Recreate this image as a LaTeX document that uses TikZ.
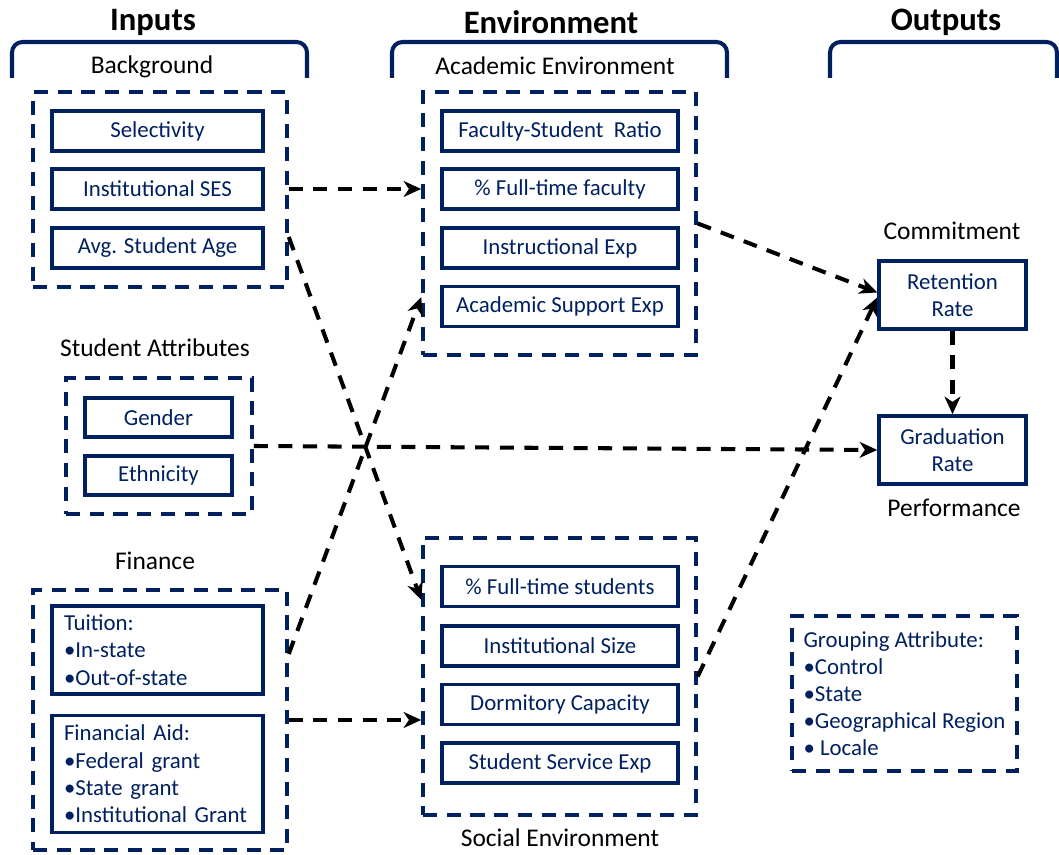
\documentclass[tikz,border=0pt]{standalone}
\usepackage{fontspec}
\setmainfont{Carlito}
\usetikzlibrary{arrows.meta}
\definecolor{navy}{RGB}{0,32,96}

\begin{document}
\begin{tikzpicture}[
    item/.style={draw=navy, line width=2pt, text=navy, minimum width=4.22cm, minimum height=0.8cm,
        inner sep=0pt, font=\fontsize{13}{15.5}\selectfont},
    panel/.style={draw=navy, line width=2pt, dash pattern=on 8pt off 5.5pt, inner sep=0pt},
    caption/.style={font=\fontsize{14.5}{17}\selectfont},
    heading/.style={font=\fontsize{18.6}{22}\selectfont\bfseries},
    bracket/.style={draw=navy, line width=2.3pt, rounded corners=6pt},
    link/.style={draw=black, line width=2.3pt, dash pattern=on 8pt off 6pt,
        -{Stealth[length=10pt, width=9pt, inset=3pt]}}
]
    \useasboundingbox (0,0) rectangle (21.18,17.1);

    % Column headings and brackets
    \node[heading] (hin) at (3.06,16.66) {Inputs};
    \node[heading] (henv) at (11.02,16.66) {Environment};
    \node[heading] (hout) at (18.92,16.66) {Outputs};
    \draw[bracket] (0.24,15.54) -- (0.24,16.26) -- (6.14,16.26) -- (6.14,15.54);
    \draw[bracket] (7.84,15.54) -- (7.84,16.26) -- (14.54,16.26) -- (14.54,15.54);
    \draw[bracket] (16.6,15.54) -- (16.6,16.26) -- (21.14,16.26) -- (21.14,15.54);

    % Inputs: background
    \node[caption] (lbg) at (3.04,15.76) {Background};
    \node[panel, minimum width=5.08cm, minimum height=3.9cm] (bg) at (3.2,13.31) {};
    \node[item] (sel) at (3.15,14.48) {Selectivity};
    \node[item] (ses) at (3.15,13.32) {Institutional SES};
    \node[item] (age) at (3.15,12.14) {Avg. Student Age};

    % Inputs: student attributes
    \node[caption] (lstu) at (3.1,10.14) {Student Attributes};
    \node[panel, minimum width=3.72cm, minimum height=2.72cm] (stu) at (3.18,8.18) {};
    \node[item, minimum width=2.94cm, minimum height=0.78cm] (gen) at (3.17,8.75) {Gender};
    \node[item, minimum width=2.94cm, minimum height=0.78cm] (eth) at (3.17,7.59) {Ethnicity};

    % Inputs: finance
    \node[caption] (lfin) at (3.1,5.88) {Finance};
    \node[panel, minimum width=5.08cm, minimum height=5.2cm] (fin) at (3.2,2.7) {};
    \node[item, align=left, text width=3.74cm, inner xsep=0.24cm, minimum height=1.76cm] (tui) at (3.15,4.1)
        {Tuition:\\•In-state\\•Out-of-state};
    \node[item, align=left, text width=3.74cm, inner xsep=0.24cm, minimum height=2.34cm] (aid) at (3.15,1.62)
        {Financial Aid:\\•Federal grant\\•State grant\\•Institutional Grant};

    % Environment: academic
    \node[caption] (lacad) at (11.1,15.78) {Academic Environment};
    \node[panel, minimum width=5.46cm, minimum height=5.26cm] (acad) at (11.19,12.63) {};
    \node[item, minimum width=4.72cm] (ratio) at (11.2,14.48) {Faculty-Student\ \ Ratio};
    \node[item, minimum width=4.72cm] (ftfac) at (11.2,13.32) {\% Full-time faculty};
    \node[item, minimum width=4.72cm] (instr) at (11.2,12.14) {Instructional Exp};
    \node[item, minimum width=4.72cm] (acsup) at (11.2,10.97) {Academic Support Exp};

    % Environment: social
    \node[panel, minimum width=5.46cm, minimum height=5.54cm] (soc) at (11.19,3.57) {};
    \node[item, minimum width=4.72cm] (ftstu) at (11.2,5.37) {\% Full-time students};
    \node[item, minimum width=4.72cm] (size) at (11.2,4.18) {Institutional Size};
    \node[item, minimum width=4.72cm] (dorm) at (11.2,3.01) {Dormitory Capacity};
    \node[item, minimum width=4.72cm] (serv) at (11.2,1.84) {Student Service Exp};
    \node[caption] (lsoc) at (11.2,0.34) {Social Environment};

    % Outputs
    \node[caption] (lcom) at (19.04,12.48) {Commitment};
    \node[item, align=center, minimum width=2.94cm, minimum height=1.36cm] (ret) at (19.05,11.2) {Retention\\Rate};
    \node[item, align=center, minimum width=2.94cm, minimum height=1.36cm] (grad) at (19.05,8.1) {Graduation\\Rate};
    \node[caption] (lperf) at (19.08,6.94) {Performance};

    % Grouping attribute
    \node[panel, text=navy, align=left, minimum width=4.5cm, minimum height=3.1cm,
        font=\fontsize{13}{15.3}\selectfont] (grp) at (18.09,3.23)
        {Grouping Attribute:\\•Control\\•State\\•Geographical Region\\• Locale};

    % Arrows
    \draw[link] (bg.east |- ses) -- (acad.west |- ses);
    \draw[link] ([yshift=-0.95cm]bg.east) -- ([yshift=1.53cm]soc.west);
    \draw[link] ([yshift=1.32cm]fin.east) -- ([yshift=-1.47cm]acad.west);
    \draw[link] (fin.east) -- (fin.east -| soc.west);
    \draw[link] (stu.east) -- (grad.west);
    \draw[link] (acad.east) -- ([yshift=0.05cm]ret.west);
    \draw[link] (soc.east) -- ([yshift=-0.05cm]ret.west);
    \draw[link] (ret) -- (grad);
\end{tikzpicture}
\end{document}
